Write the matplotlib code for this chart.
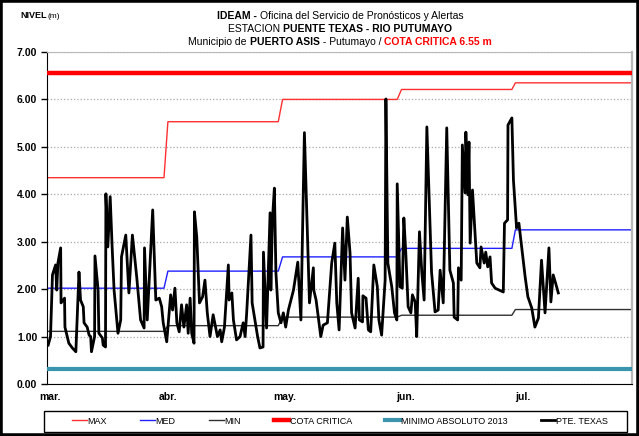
import matplotlib
matplotlib.use('Agg')
import matplotlib.pyplot as plt
from matplotlib.lines import Line2D
from matplotlib.patches import Rectangle

plt.rcParams['font.family'] = ['Liberation Sans Narrow', 'Liberation Sans', 'DejaVu Sans']

# Dias contados desde el 1 de marzo
meses = ['mar.', 'abr.', 'may.', 'jun.', 'jul.']
dias_mes = [0.8, 31, 61, 92, 122]
dia_final = 150

# Cambios de mes en las curvas de referencia (inicio y fin de la rampa)
cambio_ini = [30, 59.3, 89.8, 119.2]
cambio_fin = [31, 60.4, 90.9, 120.1]
nivel_max = [4.35, 5.53, 6.00, 6.21, 6.35]
nivel_med = [2.02, 2.38, 2.68, 2.86, 3.25]
nivel_min = [1.11, 1.23, 1.41, 1.45, 1.57]
cota_critica = 6.55
minimo_2013 = 0.32

# Serie PTE. TEXAS
dias = [0.3, 0.9, 1.4, 2.2, 2.5, 2.8, 3.5, 3.6, 4.5, 4.6, 5.6, 6.5, 7.4, 8.2, 8.6, 9.3, 9.5, 10.3, 10.8, 11.2,
        11.4, 12.2, 12.3, 13.1, 13.3, 14.2, 14.4, 15.0, 15.1, 15.6, 16.2, 16.7, 17.2, 18.2, 18.9, 19.1, 20.2, 21.0, 21.9,
        23.0, 24.0, 24.9, 25.0, 25.7, 27.1, 27.9, 28.8, 29.4, 29.8, 30.7, 31.1, 31.7, 32.2, 32.8, 33.3, 33.9, 34.5, 35.1, 35.8,
        36.2, 36.7, 37.1, 37.7, 37.8, 38.4, 39.1, 39.9, 40.5, 41.1, 41.8, 42.6, 43.7, 44.4,
        44.8, 45.5, 46.5, 46.7, 47.4, 47.8, 48.6, 49.5, 50.3, 50.8, 51.2, 52.3, 52.6, 53.3, 54.0, 54.6, 55.4, 55.5, 56.3, 56.7,
        57.2, 57.4, 57.8, 58.3, 58.7, 59.3, 60.0, 60.6, 61.2, 61.9, 63.2, 64.3, 65.1, 66.0,
        67.3, 68.3, 68.4, 69.0, 70.2, 70.8, 71.9, 73.0, 73.8, 74.3, 74.9, 75.8, 76.4, 77.0, 77.7, 78.1, 79.0, 79.8, 80.1, 80.9,
        81.0, 81.8, 82.4, 83.0, 83.8, 84.7, 85.1, 85.8, 86.7, 86.9,
        87.4, 88.4, 89.1, 89.7, 89.8, 90.5, 91.1, 91.5, 92.0, 92.6, 93.3, 93.7, 94.4, 94.8, 95.5, 96.1, 96.7, 97.4, 98.6, 99.5,
        100.3, 100.8, 101.6, 102.5, 103.3, 104.2, 104.4, 105.3, 105.5, 106.2, 106.5, 107.2, 107.4, 107.9, 108.2, 108.5, 109.1, 109.6, 110.2,
        111.0, 111.3, 112.1, 112.5, 113.0, 113.6, 114.0, 114.9, 117.0, 117.3, 118.1, 118.2, 119.2, 119.6, 120.4, 121.0, 121.9, 122.6, 123.3, 124.3,
        125.1, 126.0, 126.8, 127.7, 128.7, 129.2, 129.8, 130.4, 131.1]
nivel = [0.82, 1.00, 2.30, 2.51, 1.98, 2.55, 2.87, 1.71, 1.81, 1.20, 0.86, 0.76, 0.68, 2.36, 1.77, 1.63, 1.29, 1.20, 1.03, 1.00,
         0.68, 1.00, 2.70, 1.98, 1.07, 0.97, 0.82, 0.78, 4.01, 2.89, 3.95, 2.89, 1.98, 1.07, 1.35, 2.68, 3.14, 1.92, 3.14,
         2.26, 1.35, 1.18, 2.87, 1.35, 3.67, 1.77, 1.81, 1.63, 1.29, 0.89, 1.29, 1.88, 1.56, 2.02, 1.29, 1.10, 1.67, 1.20, 1.67,
         1.07, 1.81, 1.07, 0.86, 3.63, 3.10, 1.71, 1.84, 2.19, 1.50, 1.00, 1.46, 1.00, 1.14,
         0.89, 1.20, 2.51, 1.77, 1.92, 1.35, 0.93, 1.00, 1.29, 1.00, 1.50, 3.14, 1.71, 1.35, 1.00, 0.76, 0.78, 2.78, 1.18, 2.26,
         3.61, 1.98, 3.46, 4.13, 2.34, 1.50, 1.29, 1.50, 1.20, 1.56, 1.98, 2.57, 1.35, 5.30,
         1.71, 2.45, 1.98, 1.77, 1.00, 1.24, 1.29, 2.55, 2.97, 1.71, 1.14, 3.29, 2.19, 3.52, 2.76, 1.50, 1.18, 2.23, 1.35, 1.31,
         1.86, 1.81, 1.14, 1.10, 2.51, 2.05, 1.35, 1.03, 2.19, 6.01,
         2.55, 2.05, 1.50, 1.35, 4.22, 2.05, 2.02, 3.50, 2.76, 1.63, 1.50, 1.88, 1.73, 1.00, 3.21, 2.36, 1.77, 5.42, 2.36, 1.52,
         1.56, 2.40, 1.71, 5.40, 2.40, 2.13, 1.41, 1.35, 2.45, 2.19, 5.04, 4.03, 5.31, 3.99, 5.10, 2.97, 4.09, 3.40, 2.55,
         2.45, 2.89, 2.55, 2.78, 2.47, 2.68, 2.13, 2.02, 1.94, 3.39, 3.46, 5.46, 5.61, 4.30, 3.29, 3.39, 2.76, 2.26, 1.84, 1.60,
         1.20, 1.39, 2.61, 1.50, 2.87, 1.73, 2.30, 2.13, 1.92]


def escalones(valores):
    xs, ys = [0], [valores[0]]
    for i in range(len(cambio_ini)):
        xs += [cambio_ini[i], cambio_fin[i]]
        ys += [valores[i], valores[i + 1]]
    xs.append(dia_final)
    ys.append(valores[-1])
    return xs, ys


fig = plt.figure(figsize=(6.39, 4.36), dpi=100)
ax = fig.add_axes([47 / 639, 1 - 384 / 436, 585 / 639, 332 / 436])

ax.axhline(cota_critica, color='#ff0000', lw=3.2, zorder=3)
ax.axhline(minimo_2013, color='#3a94ad', lw=3.0, zorder=3)
ax.plot(*escalones(nivel_max), color='#ff3030', lw=1.0, zorder=2)
ax.plot(*escalones(nivel_med), color='#2020ff', lw=1.0, zorder=2)
ax.plot(*escalones(nivel_min), color='#303030', lw=1.0, zorder=2)
ax.plot(dias, nivel, color='black', lw=2.0, zorder=4)

ax.set_xlim(0, dia_final)
ax.set_ylim(0, 7)
ax.set_yticks(range(8))
ax.set_yticklabels([f'{v:.2f}' for v in range(8)], fontsize=7.5, fontweight='bold')
ax.set_xticks(dias_mes)
ax.set_xticklabels(meses, fontsize=7.5, fontweight='bold')
ax.tick_params(axis='x', length=0, pad=6)
ax.tick_params(axis='y', length=4, width=1, pad=3)
ax.grid(axis='y', color='#a8a8a8', linestyle=':', lw=0.9)
ax.spines['left'].set_color('black')
ax.spines['bottom'].set_color('black')
ax.spines['top'].set_color('#b8b8b8')
ax.spines['right'].set_color('#b8b8b8')
ax.spines['right'].set_linewidth(1.6)

# Titulo con partes en negrita y color
renderer = fig.canvas.get_renderer()


def linea_titulo(y, partes, xc=340 / 639, size=7.5):
    objs = [fig.text(0, y, t, fontsize=size, fontweight=w, color=c, va='center', ha='left')
            for t, w, c in partes]
    anchos = [o.get_window_extent(renderer).width for o in objs]
    x = xc * fig.bbox.width - sum(anchos) / 2
    for o, a in zip(objs, anchos):
        o.set_x(x / fig.bbox.width)
        x += a


linea_titulo(1 - 16 / 436, [('IDEAM - ', 'bold', 'black'),
                            ('Oficina del Servicio de Pronósticos y Alertas', 'normal', 'black')])
linea_titulo(1 - 29 / 436, [('ESTACION ', 'normal', 'black'),
                            ('PUENTE TEXAS - RIO PUTUMAYO', 'bold', 'black')])
linea_titulo(1 - 42 / 436, [('Municipio de ', 'normal', 'black'),
                            ('PUERTO ASIS', 'bold', 'black'),
                            (' - Putumayo / ', 'normal', 'black'),
                            ('COTA CRITICA 6.55 m', 'bold', '#ff0000')])

fig.text(20 / 639, 1 - 16 / 436, 'NIVEL', fontsize=6.5, fontweight='bold', va='center')
fig.text(48 / 639, 1 - 16 / 436, '(m)', fontsize=6, va='center')

# Leyenda
handles = [Line2D([], [], color='#ff3030', lw=1.0),
           Line2D([], [], color='#2020ff', lw=1.0),
           Line2D([], [], color='#303030', lw=1.0),
           Line2D([], [], color='#ff0000', lw=3.2),
           Line2D([], [], color='#3a94ad', lw=3.0),
           Line2D([], [], color='black', lw=2.0)]
etiquetas = ['MAX', 'MED', 'MIN', 'COTA CRITICA', 'MINIMO ABSOLUTO 2013', 'PTE. TEXAS']
fig.legend(handles, etiquetas, loc='center', bbox_to_anchor=(340 / 639, 1 - 421 / 436), ncol=6,
           frameon=False, fontsize=6.5, handlelength=1.6, handletextpad=0.1, columnspacing=3.7)
fig.patches.append(Rectangle((44 / 639, 1 - 432 / 436), 583 / 639, 21 / 436, transform=fig.transFigure,
                             fill=False, ec='black', lw=1.0))
fig.patches.append(Rectangle((0, 0), 1, 1, transform=fig.transFigure, fill=False, ec='black', lw=4))

fig.savefig('out.png', dpi=100)
